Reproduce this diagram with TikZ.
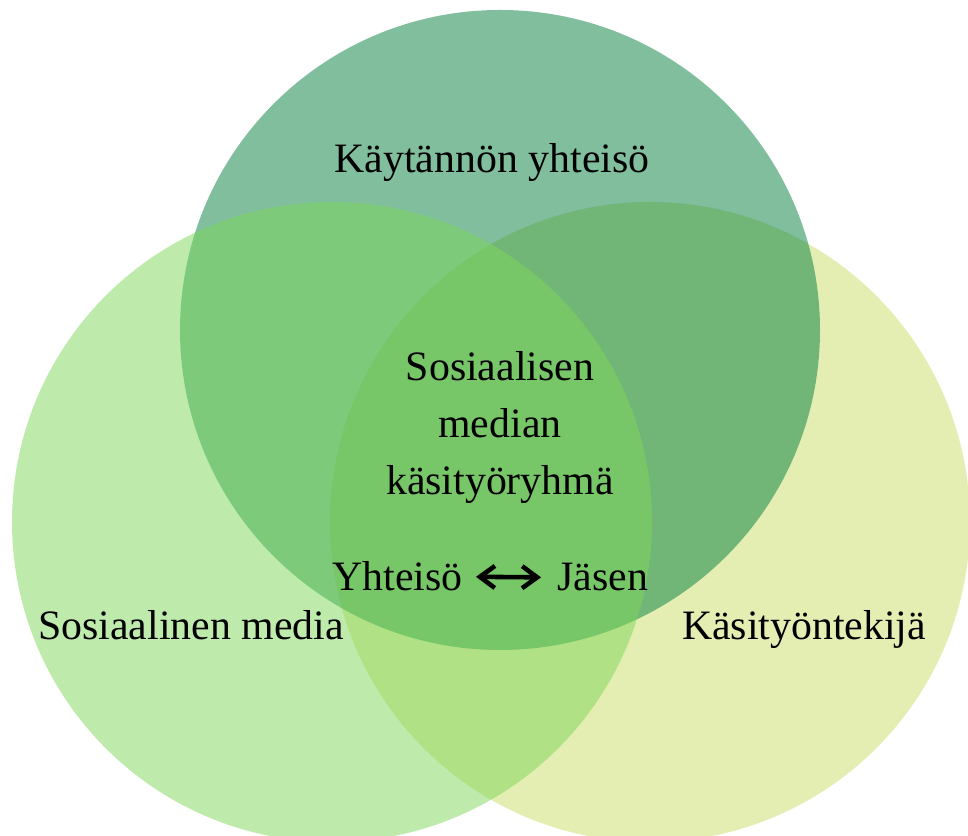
\documentclass[tikz,border=0pt]{standalone}
\usepackage{fontspec}
\setmainfont{Liberation Serif}
\usetikzlibrary{arrows.meta}

\definecolor{topgreen}{RGB}{1,125,61}
\definecolor{leftgreen}{RGB}{125,215,89}
\definecolor{rightgreen}{RGB}{201,221,101}

\begin{document}
\begin{tikzpicture}[
    ring/.style={fill opacity=0.5, draw=none},
    lbl/.style={font=\fontsize{23.8}{32.4}\selectfont, align=center, inner sep=0pt},
    twoway/.style={{Straight Barb[length=3mm, width=4.4mm]}-{Straight Barb[length=3mm, width=4.4mm]}, line width=2.6pt, shorten <=2.6mm, shorten >=3.2mm},
]
    \useasboundingbox (0,0) rectangle (19.36,16.72);
    \clip (0,0) rectangle (19.36,16.72);
    \fill[ring, fill=rightgreen] (13,6.28) circle (6.4cm);
    \fill[ring, fill=topgreen] (10,10.12) circle (6.4cm);
    \fill[ring, fill=leftgreen] (6.64,6.28) circle (6.4cm);

    \node[lbl, anchor=base] (kay) at (9.84,13.26) {Käytännön yhteisö};
    \node[lbl] (ryhma) at (10,8.17) {Sosiaalisen\\median\\käsityöryhmä};
    \node[lbl, anchor=base] (some) at (3.82,3.92) {Sosiaalinen media};
    \node[lbl, anchor=base] (tekija) at (16.08,3.92) {Käsityöntekijä};
    \node[lbl, anchor=base east] (yht) at (9.26,4.9) {Yhteisö};
    \node[lbl, anchor=base west] (jas) at (11.14,4.9) {Jäsen};
    \draw[twoway] (yht.east) -- (jas.west);
\end{tikzpicture}
\end{document}
